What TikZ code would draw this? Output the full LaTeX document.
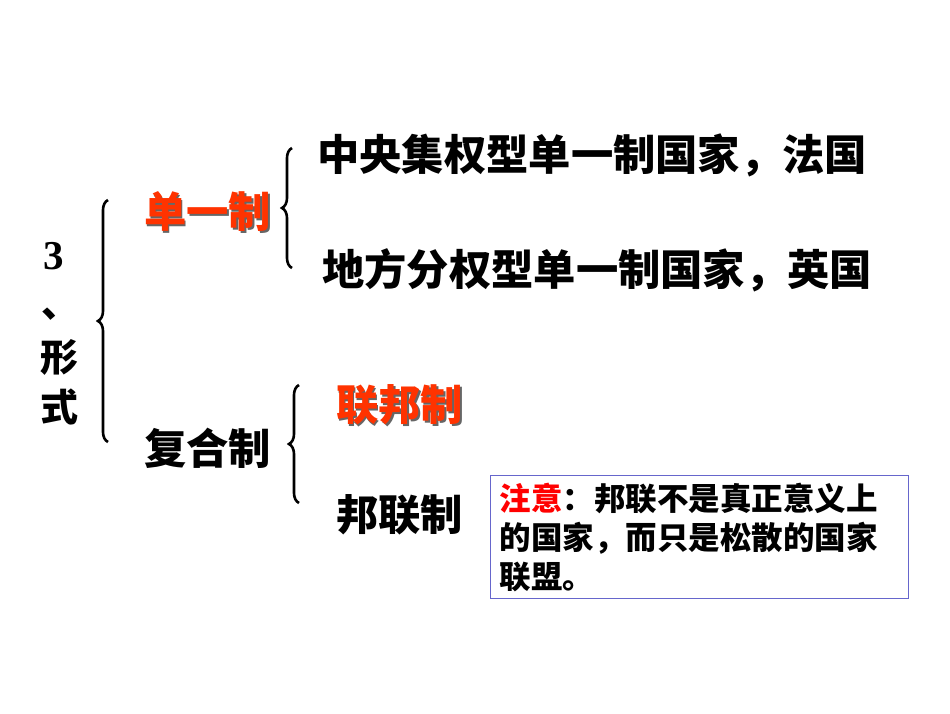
\documentclass[tikz,border=0pt]{standalone}
\usepackage{fontspec}
\newfontfamily\cjk{Noto Sans CJK SC}
\newfontfamily\numfont{Liberation Serif}
\usetikzlibrary{decorations.pathreplacing}
\definecolor{hired}{RGB}{255,51,0}
\definecolor{notered}{RGB}{255,0,0}
\definecolor{boxblue}{RGB}{102,102,204}
\tikzset{
  big/.style={font=\cjk\bfseries\fontsize{42.3}{46}\selectfont, inner sep=0pt, anchor=west},
  redtxt/.style={big, text=hired},
  shadowtxt/.style={big, text=black!60},
  bracepath/.style={line width=2.6pt, decorate, decoration={brace, amplitude=10pt, aspect=0.5}},
}
\begin{document}
\begin{tikzpicture}[x=1pt,y=-1pt]
\useasboundingbox (0,0) rectangle (950,713);
% left vertical title
\node[font=\numfont\bfseries\fontsize{41}{44}\selectfont, inner sep=0pt] (n3) at (54,256) {3};
\node[font=\cjk\bfseries\fontsize{38}{40}\selectfont, inner sep=0pt] (dun) at (60,314) {、};
\node[font=\cjk\bfseries\fontsize{38}{40}\selectfont, inner sep=0pt] (xing) at (59,357) {形};
\node[font=\cjk\bfseries\fontsize{38}{40}\selectfont, inner sep=0pt] (shi) at (59,407) {式};
% big brace
\coordinate (b1top) at (108,200);
\coordinate (b1bot) at (108,442);
\draw[bracepath] (b1bot) -- (b1top);
% level 2
\node[shadowtxt] (dyzs) at (145.5,213.5) {单一制};
\node[redtxt] (dyz) at (144,212) {单一制};
\node[big] (fhz) at (144,448) {复合制};
% brace 2
\coordinate (b2top) at (292,148);
\coordinate (b2bot) at (292,268);
\draw[bracepath] (b2bot) -- (b2top);
\node[big] (zy) at (317,155) {中央集权型单一制国家，法国};
\node[big] (df) at (322,270) {地方分权型单一制国家，英国};
% brace 3
\coordinate (b3top) at (299,385);
\coordinate (b3bot) at (299,503);
\draw[bracepath] (b3bot) -- (b3top);
\node[shadowtxt] (lbzs) at (337.5,406.5) {联邦制};
\node[redtxt] (lbz) at (336,405) {联邦制};
\node[big] (blz) at (336,515) {邦联制};
% note box
\node[draw=boxblue, line width=1.3pt, anchor=north west, minimum width=418pt, minimum height=123pt,
      inner xsep=9pt, inner ysep=6pt, align=left, text width=400pt,
      font=\cjk\bfseries\fontsize{31.5}{39}\selectfont] (note) at (490,475)
  {\textcolor{notered}{注意}：邦联不是真正意义上\\的国家，而只是松散的国家\\联盟。};
\end{tikzpicture}
\end{document}
